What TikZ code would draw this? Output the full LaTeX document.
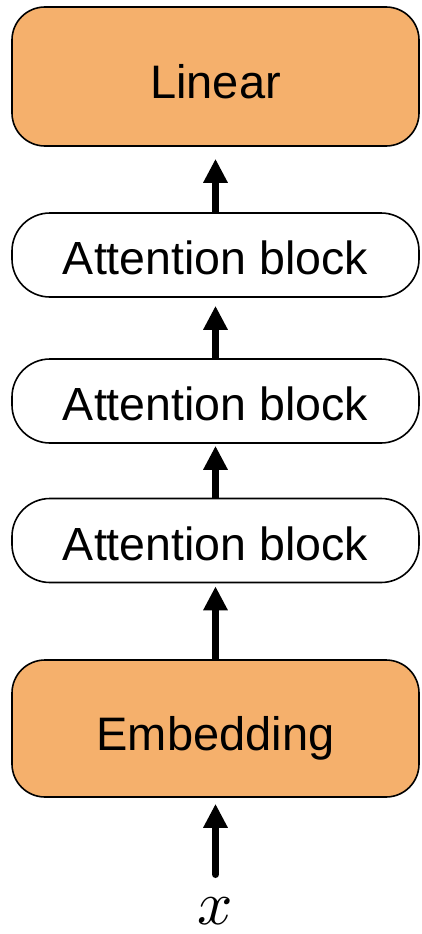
\documentclass[tikz,border=0pt]{standalone}
\usepackage{fontspec}
\usepackage{unicode-math}
\setmainfont{Liberation Sans}
\setmathfont{Latin Modern Math}
\usetikzlibrary{arrows.meta}
\definecolor{boxorange}{HTML}{F5B06C}
\tikzset{
  orangebox/.style={draw=black, line width=1.6pt, fill=boxorange, rounded corners=33pt,
    minimum width=407pt, minimum height=139pt, inner sep=0pt,
    font=\fontsize{47}{54}\selectfont, text height=44.6pt, text depth=0pt},
  attnbox/.style={draw=black, line width=1.6pt, fill=white, rounded corners=38pt,
    minimum width=407pt, minimum height=84pt, inner sep=0pt,
    font=\fontsize{46.5}{52}\selectfont, text height=39pt, text depth=0pt},
  bigarrow/.style={line width=7pt, -{Triangle[width=23pt,length=24pt]}}
}
\begin{document}
\begin{tikzpicture}[x=1pt,y=-1pt]
\useasboundingbox (0,0) rectangle (421,934);
\node[orangebox] (lin) at (215.5,76.5) {Linear};
\node[attnbox] (a1) at (215.5,255) {Attention block};
\node[attnbox] (a2) at (215.5,401) {Attention block};
\node[attnbox] (a3) at (215.5,540.5) {Attention block};
\node[orangebox, minimum height=137pt] (emb) at (215.5,728.5) {Embedding};
\node[anchor=base, inner sep=0pt, font=\fontsize{62}{70}\selectfont] (xin) at (215.5,924) {$x$};
\coordinate (xtail) at (215.5,874.5);
\draw[bigarrow, shorten >=12pt] (a1.north) -- (lin.south);
\draw[bigarrow, shorten >=8pt] (a2.north) -- (a1.south);
\draw[bigarrow, shorten >=2pt] (a3.north) -- (a2.south);
\draw[bigarrow, shorten >=3pt] (emb.north) -- (a3.south);
\draw[bigarrow, line cap=round, shorten >=6pt] (xtail) -- (emb.south);
\end{tikzpicture}
\end{document}
